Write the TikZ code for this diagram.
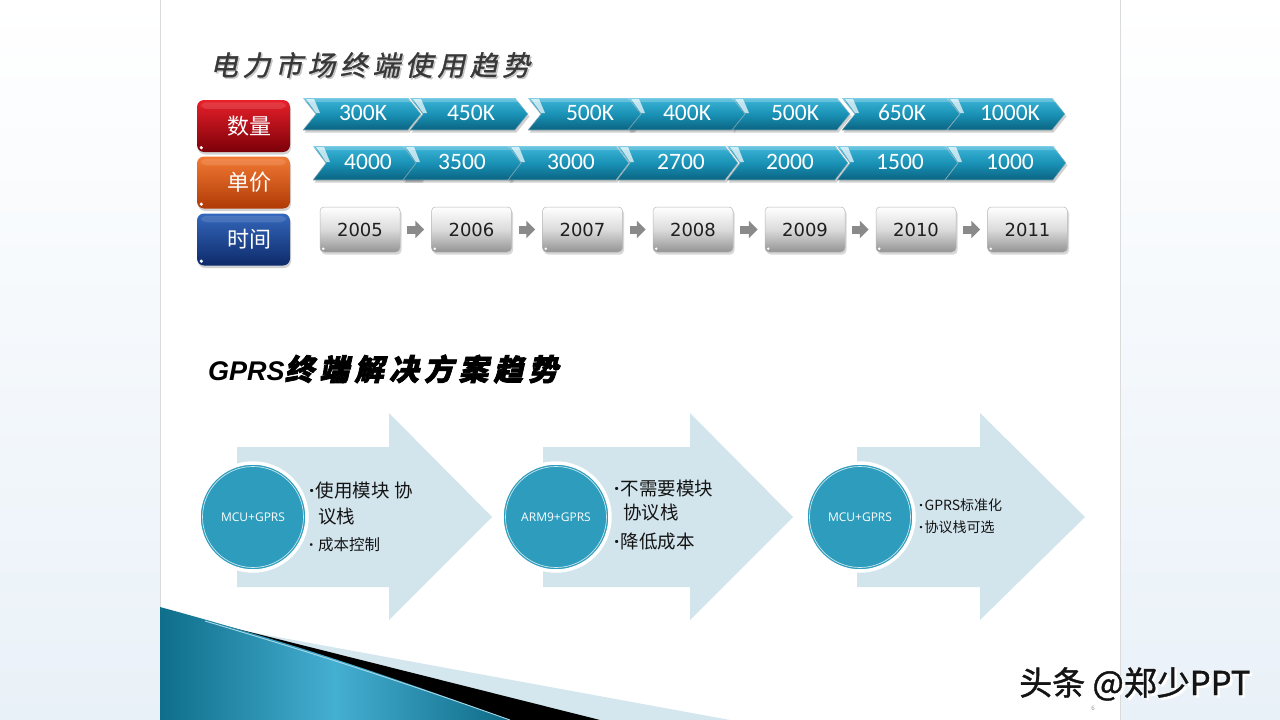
\documentclass[tikz,border=0pt]{standalone}
\usepackage{fontspec}
\usetikzlibrary{arrows.meta,shadows,calc}
\newfontfamily\cjk{Noto Sans CJK SC}
\newfontfamily\cjkwm[FakeBold=1.2]{Noto Sans CJK SC}
\newfontfamily\cjktitle[FakeSlant=0.22,FakeBold=1.2,LetterSpace=18]{Noto Sans CJK SC}
\newfontfamily\cjktitleb[FakeSlant=0.22,FakeBold=2.4,LetterSpace=18]{Noto Sans CJK SC}
\newfontfamily\lsans{Liberation Sans}
\newfontfamily\carl{Carlito}
\newfontfamily\dv{DejaVu Sans}
\newfontfamily\osans{Open Sans}
\definecolor{marg}{HTML}{E9F1F8}
\definecolor{redtop}{HTML}{E8202A}
\definecolor{redbot}{HTML}{7C0008}
\definecolor{ortop}{HTML}{F27A34}
\definecolor{orbot}{HTML}{B03A06}
\definecolor{bltop}{HTML}{3468BC}
\definecolor{blbot}{HTML}{0E2A6A}
\definecolor{chtop}{HTML}{3DB5D8}
\definecolor{chmid}{HTML}{1A92B6}
\definecolor{chbot}{HTML}{0A6381}
\definecolor{arrbg}{HTML}{D2E4EC}
\definecolor{circ}{HTML}{2E9CBC}
\definecolor{tealA}{HTML}{0F6E8A}
\definecolor{tealB}{HTML}{45AFD2}
\definecolor{tealC}{HTML}{0E6A86}
\definecolor{wlb}{HTML}{D4E6EE}
\definecolor{tline}{HTML}{A8D8E8}
\definecolor{yarrc}{HTML}{8A8A8A}
\newcommand\mychev[4]{%
  \pgfmathsetmacro\cxa{#1+#3-13}%
  \pgfmathsetmacro\cxb{#1+#3}%
  \pgfmathsetmacro\cym{#2+#4/2}%
  \pgfmathsetmacro\cyb{#2+#4}%
  \pgfmathsetmacro\cxn{#1+13}%
  \begin{scope}[shift={(1.5,2.5)}]
    \fill[black,opacity=0.18] (#1,#2) -- (\cxa,#2) -- (\cxb,\cym) -- (\cxa,\cyb) -- (#1,\cyb) -- (\cxn,\cym) -- cycle;
  \end{scope}
  \fill[top color=chtop,bottom color=chbot,middle color=chmid] (#1,#2) -- (\cxa,#2) -- (\cxb,\cym) -- (\cxa,\cyb) -- (#1,\cyb) -- (\cxn,\cym) -- cycle;
  \draw[white,opacity=0.45,line width=0.7] (#1,#2) -- (\cxa,#2) -- (\cxb,\cym) -- (\cxa,\cyb) -- (#1,\cyb) -- (\cxn,\cym) -- cycle;
  \fill[white,opacity=0.22] (#1,#2) -- (\cxa,#2) -- ({\cxa+3.3},{#2+4}) -- ({#1+3.3},{#2+4}) -- cycle;
  \fill[white,opacity=0.7] ({#1+3},{#2+1}) -- ({#1+11},{#2+1}) -- ({\cxn+4},{\cym-1}) -- ({\cxn},{\cym-1}) -- cycle;
}
\newcommand\bul{{\osans\bfseries·}\hspace{1.5pt}}
\tikzset{
  btn/.style={rounded corners=7pt, minimum width=93pt, minimum height=52pt, inner sep=0pt,
    text=white, font=\cjk\fontsize{22}{24}\selectfont,
    drop shadow={opacity=0.35,shadow xshift=1pt,shadow yshift=-2.5pt}},
  chtext/.style={text=white, font=\carl\fontsize{23.5}{26}\selectfont, inner sep=0pt},
  yr/.style={rounded corners=4pt, minimum width=80pt, minimum height=45pt, inner sep=0pt,
    top color=white, bottom color=black!42, middle color=black!14, draw=black!28, line width=0.5pt,
    font=\dv\fontsize{18}{20}\selectfont, text=black!88,
    drop shadow={opacity=0.3,shadow xshift=1.5pt,shadow yshift=-2.5pt}},
  yarr/.style={draw=yarrc, line width=8pt, -{Triangle[length=9pt,width=17pt]}, shorten <=7pt, shorten >=7pt},
  ccl/.style={circle, minimum size=108pt, fill=circ, draw=white, line width=3.5pt, inner sep=0pt,
    text=white, font=\osans\fontsize{12}{14}\selectfont},
  btxt/.style={anchor=west, inner sep=0pt, text=black!92},
}
\begin{document}
\begin{tikzpicture}[x=1pt,y=-1pt]
\useasboundingbox (0,0) rectangle (1280,720);
% background
\shade[top color=white, bottom color=marg] (0,0) rectangle (1280,720);
\fill[white] (160,0) rectangle (1120,720);
\draw[black!14, line width=0.8] (160,0) -- (160,720) (1120,0) -- (1120,720);

% titles
\node[anchor=west, inner sep=0pt, text=black!22] at (211.5,66.5) {\cjktitle\fontsize{27.5}{30}\selectfont 电力市场终端使用趋势};
\node[anchor=west, inner sep=0pt, text=black!78] (t1) at (210,65) {\cjktitle\fontsize{27.5}{30}\selectfont 电力市场终端使用趋势};
\node[anchor=west, inner sep=0pt, text=black] (t2) at (208,369) {\lsans\bfseries\itshape\fontsize{27}{30}\selectfont GPRS\cjktitleb\fontsize{29.5}{30}\selectfont 终端解决方案趋势};

% left buttons
\node[btn, top color=redtop, bottom color=redbot] (bq) at (243.5,126) {\hspace*{12pt}数量};
\node[btn, top color=ortop, bottom color=orbot] (bp) at (243.5,182.5) {\hspace*{12pt}单价};
\node[btn, top color=bltop, bottom color=blbot] (bt) at (243.5,239.5) {\hspace*{12pt}时间};
\foreach \b in {bq,bp,bt}{
  \fill[white,opacity=0.12,rounded corners=5pt] ($(\b.north west)+(4,2.5)$) rectangle ($(\b.north east)+(-4,9)$);
  \fill[white] ($(\b.south west)+(4.5,-4.5)$) circle (1.8);
}

% row 1 chevrons
\foreach \x in {303,410,528,628,732,842,947}{\mychev{\x}{98}{118}{32}}
\node[chtext] (q1) at (363,113) {300K};
\node[chtext] (q2) at (471,113) {450K};
\node[chtext] (q3) at (590,113) {500K};
\node[chtext] (q4) at (687,113) {400K};
\node[chtext] (q5) at (795,113) {500K};
\node[chtext] (q6) at (902,113) {650K};
\node[chtext] (q7) at (1010,113) {1000K};

% row 2 chevrons
\foreach \x in {313,403,508,617,727,837,945}{\mychev{\x}{146}{121}{34}}
\node[chtext] (p1) at (368,162) {4000};
\node[chtext] (p2) at (462,162) {3500};
\node[chtext] (p3) at (571,162) {3000};
\node[chtext] (p4) at (681,162) {2700};
\node[chtext] (p5) at (790,162) {2000};
\node[chtext] (p6) at (900,162) {1500};
\node[chtext] (p7) at (1010,162) {1000};

% years
\node[yr] (y1) at (360,229.5) {2005};
\node[yr] (y2) at (471.5,229.5) {2006};
\node[yr] (y3) at (582.5,229.5) {2007};
\node[yr] (y4) at (693,229.5) {2008};
\node[yr] (y5) at (805,229.5) {2009};
\node[yr] (y6) at (916,229.5) {2010};
\node[yr] (y7) at (1027.5,229.5) {2011};
\foreach \i in {1,...,7}{\fill[white] ($(y\i.south west)+(3.5,-3.5)$) circle (1.4);}
\draw[yarr] (y1) -- (y2);
\draw[yarr] (y2) -- (y3);
\draw[yarr] (y3) -- (y4);
\draw[yarr] (y4) -- (y5);
\draw[yarr] (y5) -- (y6);
\draw[yarr] (y6) -- (y7);

% bottom big arrows
\fill[arrbg] (237,447) -- (389,447) -- (389,413) -- (492,517) -- (389,620) -- (389,587) -- (237,587) -- cycle;
\fill[arrbg] (543,447) -- (690,447) -- (690,413) -- (793,517) -- (690,620) -- (690,587) -- (543,587) -- cycle;
\fill[arrbg] (857,447) -- (980,447) -- (980,413) -- (1085,517) -- (980,620) -- (980,587) -- (857,587) -- cycle;

\node[ccl] (c1) at (253,517) {MCU+GPRS};
\node[ccl] (c2) at (556,517) {ARM9+GPRS};
\node[ccl] (c3) at (860,517) {MCU+GPRS};
\foreach \c in {c1,c2,c3}{\draw[white,opacity=0.75,line width=0.7] (\c.center) circle (50.5);}

\node[btxt, font=\cjk\fontsize{18.5}{20}\selectfont] (a1) at (309,490) {\bul 使用模块 协};
\node[btxt, font=\cjk\fontsize{18.5}{20}\selectfont] (a2) at (318,517) {议栈};
\node[btxt, font=\cjk\fontsize{15.5}{18}\selectfont] (a3) at (309,545) {\bul\hspace{3pt}成本控制};
\node[btxt, font=\cjk\fontsize{18.5}{20}\selectfont] (b1) at (614,488) {\bul 不需要模块};
\node[btxt, font=\cjk\fontsize{18.5}{20}\selectfont] (b2) at (623,513) {协议栈};
\node[btxt, font=\cjk\fontsize{18.5}{20}\selectfont] (b3) at (614,542) {\bul 降低成本};
\node[btxt, font=\cjk\fontsize{14}{16}\selectfont] (d1) at (919,505) {\bul GPRS标准化};
\node[btxt, font=\cjk\fontsize{14}{16}\selectfont] (d2) at (919,527) {\bul 协议栈可选};

% bottom-left wedge
\fill[wlb] (250,632) -- (730,720) -- (200,720) -- cycle;
\fill[black] (190,617) -- (600,720) -- (190,720) -- cycle;
\shade[left color=tealA, right color=tealC, middle color=tealB] (160,607) .. controls (300,645) and (400,680) .. (510,720) -- (160,720) -- cycle;
\draw[tline, line width=0.9] (205,621) .. controls (330,658) and (420,688) .. (510,720);

% watermark and page number
\node[anchor=center, inner sep=0pt, text=black!45] at (1093,708) {\osans\fontsize{6}{7}\selectfont 6};
\node[anchor=west, inner sep=0pt, text=white] at (1021.5,686.5) {\cjkwm\fontsize{33}{35}\selectfont 头条 @郑少PPT};
\node[anchor=west, inner sep=0pt, text=black!92] (wm) at (1019,684) {\cjkwm\fontsize{33}{35}\selectfont 头条 @郑少PPT};
\end{tikzpicture}
\end{document}
